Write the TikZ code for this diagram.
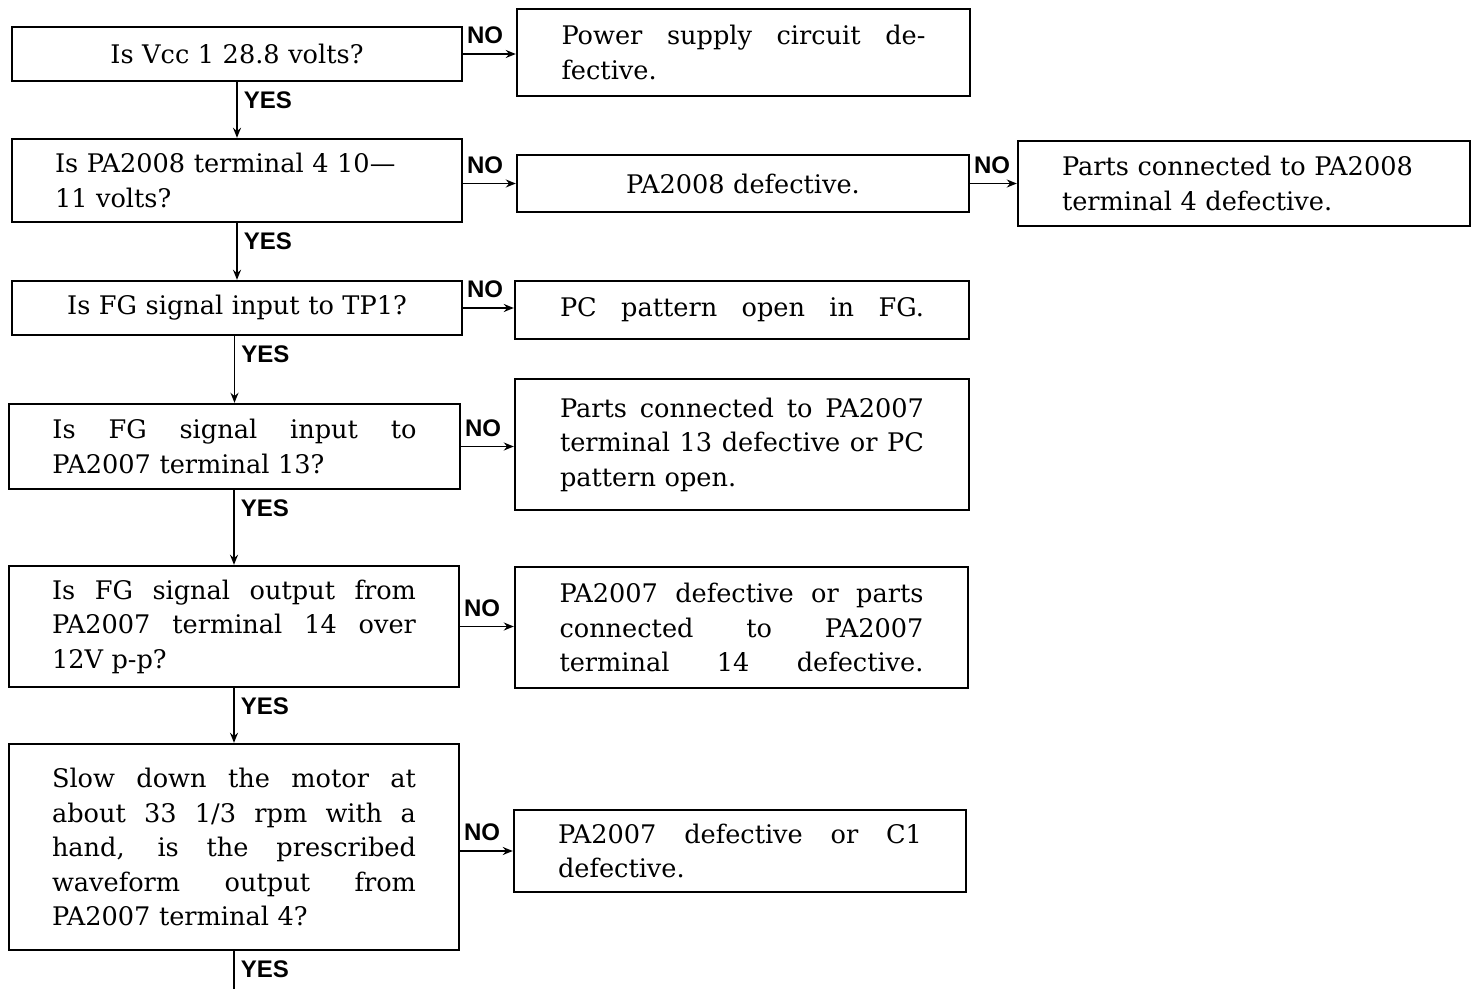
\documentclass[tikz,border=0pt]{standalone}
\usepackage{fontspec}
\setmainfont{DejaVu Serif}
\newfontfamily\labfont{Liberation Sans}
\usetikzlibrary{arrows.meta}
\newcommand{\jl}[1]{\leavevmode\hbox to 182pt{\spaceskip=0.3em plus 1fil minus 0.12em\relax #1}}
\begin{document}
\begin{tikzpicture}[x=0.5pt,y=-0.5pt,
  box/.style={draw, line width=1.2pt, inner sep=0pt, text width=182pt, align=left,
    font=\fontsize{12.8}{17.25}\selectfont},
  cbox/.style={box, align=center},
  arr/.style={line width=0.8pt, -{Stealth[length=5pt,width=4pt]}},
  yes/.style={anchor=north west, inner sep=0pt, xshift=3pt, yshift=-4.5pt, font=\labfont\bfseries\fontsize{12}{12}\selectfont},
  no/.style={anchor=south west, inner sep=0pt, xshift=1.5pt, yshift=4.5pt, font=\labfont\bfseries\fontsize{12}{12}\selectfont}]
\useasboundingbox (0,0) rectangle (1474,989);
% left column
\node[cbox, minimum width=225pt, minimum height=27pt] (b1) at (237,54) {Is Vcc 1 28.8 volts?};
\node[box, minimum width=225pt, minimum height=41.5pt] (b2) at (237,180.5) {Is PA2008 terminal 4 10—\\11 volts?};
\node[cbox, minimum width=225pt, minimum height=27pt] (b3) at (237,308) {Is FG signal input to TP1?};
\node[box, minimum width=225.5pt, minimum height=42.5pt] (b4) at (234.5,446.5) {\jl{Is FG signal input to}\\PA2007 terminal 13?};
\node[box, minimum width=225pt, minimum height=60.5pt] (b5) at (234,626.5) {\jl{Is FG signal output from}\\\jl{PA2007 terminal 14 over}\\12V p-p?};
\node[box, minimum width=225pt, minimum height=103pt] (b6) at (234,847) {\jl{Slow down the motor at}\\\jl{about 33 1/3 rpm with a}\\\jl{hand, is the prescribed}\\\jl{waveform output from}\\PA2007 terminal 4?};
% right column
\node[box, minimum width=226.5pt, minimum height=43.5pt] (r1) at (743.5,52.5) {\jl{Power supply circuit de-}\\fective.};
\node[cbox, minimum width=226pt, minimum height=28.5pt] (r2) at (743,183.5) {PA2008 defective.};
\node[box, minimum width=226pt, minimum height=42.5pt] (r3) at (1244,183.5) {Parts connected to PA2008\\terminal 4 defective.};
\node[box, minimum width=227pt, minimum height=29pt] (r4) at (742,310) {\jl{PC pattern open in FG.}};
\node[box, minimum width=227pt, minimum height=65.5pt] (r5) at (742,444.5) {\jl{Parts connected to PA2007}\\\jl{terminal 13 defective or PC}\\pattern open.};
\node[box, minimum width=226.5pt, minimum height=60.5pt] (r6) at (741.5,627.5) {\jl{PA2007 defective or parts}\\\jl{connected to PA2007}\\\jl{terminal 14 defective.}};
\node[box, minimum width=226pt, minimum height=41pt] (r7) at (740,851) {\jl{PA2007 defective or C1}\\defective.};
\coordinate (end) at (234,989);
% YES connectors
\draw[arr] (b1.south) -- (b2.north) node[yes, pos=0] {YES};
\draw[arr] (b2.south) -- (b3.north) node[yes, pos=0] {YES};
\draw[arr] (b3.south -| b4.north) -- (b4.north) node[yes, pos=0] {YES};
\draw[arr] (b4.south -| b5.north) -- (b5.north) node[yes, pos=0] {YES};
\draw[arr] (b5.south) -- (b6.north) node[yes, pos=0] {YES};
\draw[line width=0.8pt] (b6.south) -- (end) node[yes, pos=0] {YES};
% NO connectors
\draw[arr] (b1.east) -- (b1.east -| r1.west) node[no, pos=0] {NO};
\draw[arr] (b2.east |- r2.west) -- (r2.west) node[no, pos=0] {NO};
\draw[arr] (r2.east) -- (r2.east -| r3.west) node[no, pos=0] {NO};
\draw[arr] (b3.east) -- (b3.east -| r4.west) node[no, pos=0] {NO};
\draw[arr] (b4.east) -- (b4.east -| r5.west) node[no, pos=0] {NO};
\draw[arr] (b5.east) -- (b5.east -| r6.west) node[no, pos=0] {NO};
\draw[arr] (b6.east |- r7.west) -- (r7.west) node[no, pos=0] {NO};
\end{tikzpicture}
\end{document}
